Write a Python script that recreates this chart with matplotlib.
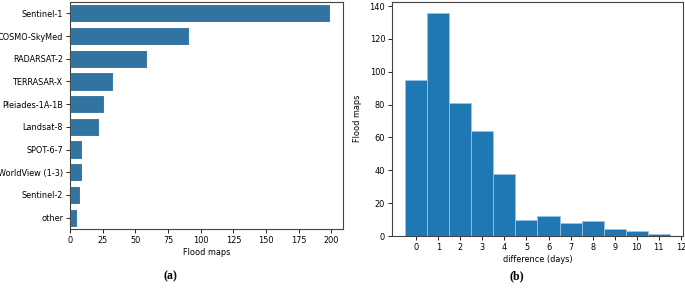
import numpy as np
import matplotlib.pyplot as plt

# data
satellites = ['Sentinel-1', 'COSMO-SkyMed', 'RADARSAT-2', 'TERRASAR-X', 'Pleiades-1A-1B',
              'Landsat-8', 'SPOT-6-7', 'WorldView (1-3)', 'Sentinel-2', 'other']
sat_counts = [199, 91, 59, 33, 26, 22, 9, 9, 8, 5]

days = [0, 1, 2, 3, 4, 5, 6, 7, 8, 9, 10, 11]
day_counts = [95, 136, 81, 64, 38, 10, 12, 8, 9, 4, 3, 1]

W, H = 685, 291
fig = plt.figure(figsize=(W / 100, H / 100), dpi=100)
fs = 5.9

# (a) horizontal bars
ax1 = fig.add_axes([70 / W, 1 - 229 / H, (343 - 70) / W, (229 - 2) / H])
y = np.arange(len(satellites))
ax1.barh(y, sat_counts, height=0.8, color='#3274a1', edgecolor='white', linewidth=0.8)
ax1.set_yticks(y)
ax1.set_yticklabels(satellites)
ax1.set_ylim(len(satellites) - 0.5, -0.5)
ax1.set_xlabel('Flood maps', fontsize=fs, labelpad=2)
ax1.tick_params(labelsize=fs, length=3, width=0.6, pad=2)
for s in ax1.spines.values():
    s.set_linewidth(0.8)
    s.set_color('#444444')

# (b) histogram of days
ax2 = fig.add_axes([392 / W, 1 - 236 / H, (683 - 392) / W, (236 - 1.5) / H])
ax2.bar(days, day_counts, width=1.0, color='#1f77b4', edgecolor='#9cc3e6', linewidth=0.6)
ax2.set_xticks(range(13))
ax2.set_xlabel('difference (days)', fontsize=fs, labelpad=2)
ax2.set_ylabel('Flood maps', fontsize=fs, labelpad=5)
ax2.tick_params(labelsize=fs, length=3, width=0.6, pad=2)
for s in ax2.spines.values():
    s.set_linewidth(0.8)
    s.set_color('#444444')

fig.text(170 / W, 1 - 276 / H, '(a)', ha='center', va='center', fontsize=8.5,
         fontweight='bold', family='Liberation Serif')
fig.text(517 / W, 1 - 276 / H, '(b)', ha='center', va='center', fontsize=8.5,
         fontweight='bold', family='Liberation Serif')

fig.savefig('out.png', dpi=100)
